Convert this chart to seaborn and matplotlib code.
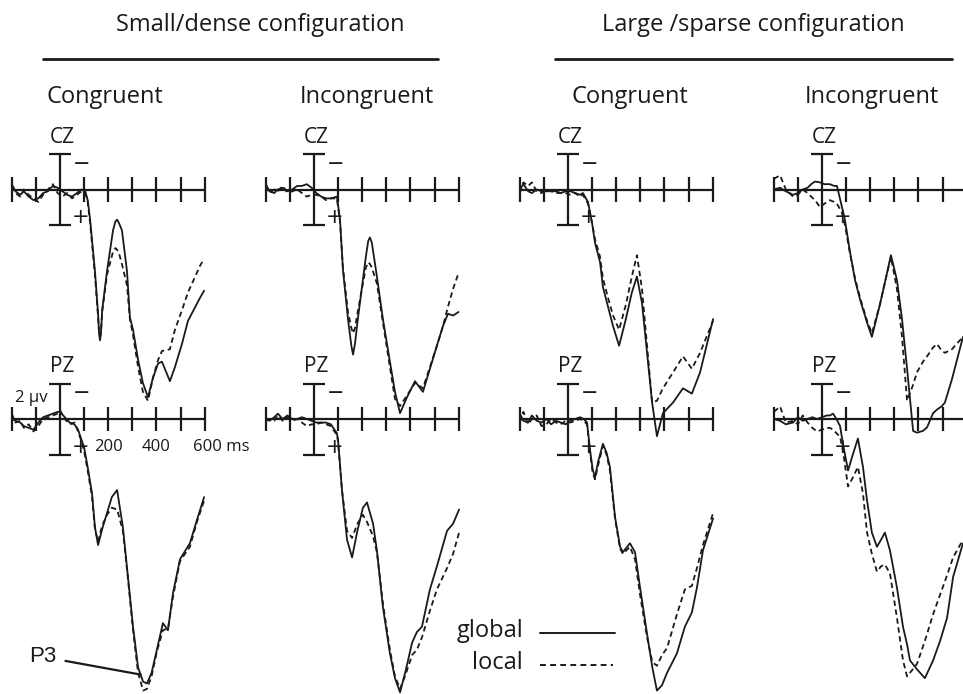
import numpy as np
import pandas as pd
import matplotlib
matplotlib.use("Agg")
import matplotlib.pyplot as plt
import seaborn as sns

# ==================== DATA (time in ms, amplitude in µV, positive plotted down) ====================
# small/dense - congruent
sd_con_cz_t = [-200,-185,-165,-150,-130,-110,-90,-70,-50,-30,-10,10,30,50,70,90,105,115,125,145,158,162,166,170,175,195,220,230,237,245,257,278,290,303,324,344,365,386,407,423,456,477,506,531,581,598]
sd_con_cz_global = [-0.3,0.1,0.3,0.1,0.4,0.6,0.5,0.2,0.1,-0.2,-0.1,0.1,0.3,0.4,0.2,0.0,0.1,0.6,1.7,4.6,7.0,8.1,8.5,8.1,6.8,4.6,2.3,1.8,1.7,1.9,2.3,4.6,7.2,7.9,9.6,10.9,11.7,10.6,9.8,9.7,10.8,10.0,8.7,7.4,6.1,5.7]
sd_con_cz_local = [-0.2,0.2,0.4,0.0,0.3,0.5,0.7,0.3,0.0,-0.3,0.2,0.4,0.2,0.5,0.3,0.1,0.2,0.7,1.9,4.8,7.2,8.0,8.3,8.0,6.9,4.8,3.5,3.3,3.4,3.6,4.2,5.4,7.3,8.2,10.0,11.4,11.9,10.6,9.6,9.1,9.0,7.9,6.8,5.8,4.3,3.9]

sd_con_pz_t = [-200,-185,-165,-150,-130,-110,-90,-70,-50,-30,-10,0,20,40,60,75,90,100,116,133,145,158,175,195,215,237,261,282,303,324,345,361,380,402,427,448,469,498,539,568,598]
sd_con_pz_global = [0.0,0.1,0.2,0.4,0.5,0.6,0.2,-0.1,-0.2,-0.3,-0.4,-0.4,-0.1,0.2,0.3,0.6,1.2,1.6,2.8,4.2,6.1,7.1,6.2,5.3,4.4,4.0,6.1,8.9,11.7,14.0,14.8,14.9,14.3,13.0,11.5,11.9,9.8,7.9,7.0,5.7,4.4]
sd_con_pz_local = [-0.3,0.2,0.1,0.5,0.3,0.7,0.4,0.0,-0.1,-0.2,-0.3,-0.5,0.0,0.3,0.2,0.7,1.3,1.8,3.0,4.4,6.2,6.9,6.0,5.4,5.0,5.1,6.3,9.0,11.9,14.3,15.3,15.2,14.5,13.1,11.9,11.8,10.0,8.0,7.2,5.8,4.6]

# small/dense - incongruent
sd_inc_cz_t = [-200,-185,-165,-150,-130,-110,-90,-70,-50,-30,-10,10,30,50,70,95,108,120,141,155,162,170,180,199,215,225,232,240,261,286,315,336,357,386,419,452,481,510,535,556,577,600]
sd_inc_cz_global = [-0.3,0.1,0.2,0.0,-0.1,0.1,0.0,-0.2,-0.2,-0.3,-0.1,0.2,0.4,0.5,0.5,0.4,1.7,4.5,7.3,8.8,9.3,8.7,7.5,5.5,3.8,2.9,2.7,3.0,4.9,7.3,9.7,11.4,12.6,11.7,10.8,11.4,10.1,8.8,7.7,7.0,7.1,6.9]
sd_inc_cz_local = [-0.2,0.2,0.0,0.1,-0.2,0.2,0.1,0.0,0.2,0.4,0.3,0.3,0.4,0.6,0.5,0.5,1.8,4.4,6.9,7.8,8.1,7.8,7.0,5.6,4.4,4.1,4.2,4.4,5.3,7.5,10.0,11.8,12.2,11.6,10.9,11.2,10.0,8.8,7.7,6.6,5.6,4.7]

sd_inc_pz_t = [-200,-185,-165,-150,-130,-110,-90,-70,-50,-30,-10,10,30,50,70,95,100,116,137,158,180,203,220,245,261,286,315,336,357,380,407,427,448,481,510,552,577,602]
sd_inc_pz_global = [0.0,0.1,-0.1,-0.3,0.0,-0.2,0.0,0.0,-0.1,0.0,0.1,0.2,0.2,0.2,0.3,0.8,1.2,4.0,6.8,7.8,6.3,5.0,4.7,5.9,7.4,10.6,13.2,14.6,15.4,14.2,12.6,12.0,11.7,9.6,8.3,6.3,5.9,5.1]
sd_inc_pz_local = [0.1,0.0,0.1,-0.2,0.1,-0.1,0.1,0.0,0.2,0.4,0.3,0.3,0.2,0.3,0.4,0.9,1.3,4.0,6.3,6.7,5.9,5.4,5.8,6.6,7.5,10.4,13.0,14.5,15.2,14.4,13.3,13.0,12.3,10.8,9.6,8.4,7.6,6.4]

# large/sparse - congruent
ls_con_cz_t = [-200,-185,-165,-150,-130,-110,-90,-70,-50,-30,-10,10,30,50,62,83,100,112,133,145,166,187,212,240,265,286,307,328,349,369,394,436,477,514,548,602]
ls_con_cz_global = [0.0,-0.3,0.1,0.2,0.0,0.1,0.1,0.1,0.1,0.2,0.1,0.1,0.2,0.3,0.2,0.7,1.9,3.0,4.1,5.5,6.6,7.7,8.8,7.3,5.8,4.9,6.4,9.2,12.0,13.9,12.6,12.0,11.2,11.5,10.3,7.3]
ls_con_cz_local = [0.2,-0.4,-0.2,-0.4,0.1,0.2,0.0,0.1,0.2,0.2,0.2,0.3,0.2,0.4,0.3,0.8,1.9,2.8,3.8,5.0,6.1,7.1,7.9,6.5,4.9,3.7,5.6,8.8,12.0,11.9,11.2,10.3,9.4,10.1,9.2,7.4]

ls_con_pz_t = [-200,-185,-165,-150,-130,-110,-90,-70,-50,-30,-10,10,30,50,65,79,91,102,112,125,145,160,174,195,216,228,257,278,299,328,350,369,390,411,452,485,514,535,560,602]
ls_con_pz_global = [-0.3,0.1,0.2,-0.2,0.1,0.2,0.0,0.3,0.1,0.2,0.3,0.1,0.0,-0.1,0.0,0.2,1.7,2.8,3.3,2.4,1.4,1.9,2.7,5.5,7.2,7.5,7.0,7.5,9.5,12.1,14.0,15.3,15.0,14.3,13.2,11.7,10.9,9.5,7.4,5.6]
ls_con_pz_local = [0.2,-0.4,0.3,0.0,-0.2,0.4,0.3,0.0,0.2,0.3,0.1,0.2,0.1,0.0,0.1,0.3,1.8,3.0,3.4,2.6,1.5,2.0,2.9,5.6,7.3,7.6,7.2,7.9,9.9,12.3,13.7,13.9,13.3,12.9,11.0,9.6,9.4,8.4,7.1,5.3]

# large/sparse - incongruent (cut at right edge)
ls_inc_cz_t = [-200,-174,-150,-120,-100,-80,-60,-45,-29,-8,10,33,50,62,83,95,116,137,158,187,207,240,265,286,311,332,353,378,394,419,436,461,477,498,510,539,585]
ls_inc_cz_global = [0.0,-0.1,0.1,0.3,0.2,0.0,-0.1,-0.3,-0.45,-0.4,-0.3,-0.3,-0.2,-0.2,1.0,1.7,3.5,5.1,6.2,7.5,8.3,6.5,5.0,3.7,5.1,7.3,10.1,13.6,13.7,13.6,13.4,12.6,12.4,12.2,12.0,10.7,8.3]
ls_inc_cz_local = [-0.6,-0.8,0.0,0.4,0.3,0.0,0.2,0.4,0.6,1.0,0.8,0.6,0.7,0.8,1.3,2.0,3.6,5.0,6.1,7.4,8.1,6.5,5.0,3.8,5.6,8.3,11.9,11.0,10.3,9.7,9.4,8.9,8.7,9.1,9.2,9.0,8.3]

ls_inc_pz_t = [-200,-174,-150,-120,-100,-80,-60,-40,-21,0,20,33,46,60,75,87,108,128,149,170,187,207,228,245,261,282,311,336,353,365,394,427,461,490,519,544,585]
ls_inc_pz_global = [0.0,0.1,0.3,0.2,-0.1,0.1,0.0,-0.1,0.0,-0.1,-0.2,-0.2,-0.3,0.0,0.4,1.4,2.9,2.0,1.1,2.7,4.6,6.4,7.2,6.8,6.4,7.4,9.5,11.7,12.7,13.6,14.1,14.6,13.6,12.5,11.2,8.9,7.0]
ls_inc_pz_local = [-0.4,-0.7,0.2,0.1,0.3,-0.2,0.2,0.5,0.7,0.6,0.5,0.5,0.6,0.8,1.0,1.8,3.8,3.3,2.7,4.2,6.4,7.6,8.6,8.3,8.2,8.7,11.2,13.6,14.5,14.3,13.8,12.5,11.0,9.9,8.8,7.8,6.8]

x_ticks = [-200, -100, 100, 200, 300, 400, 500, 600]
group_titles = ["Small/dense configuration", "Large /sparse configuration"]
column_titles = ["Congruent", "Incongruent", "Congruent", "Incongruent"]
electrodes = ["CZ", "PZ"]

# ==================== LAYOUT (pixels of the 963x694 figure) ====================
W, H = 963, 694
col_x0 = [60, 314, 568, 822]          # pixel x of 0 ms in each column
row_base = [189.5, 419]               # pixel y of 0 µV for CZ and PZ
px_per_ms = 0.241
px_per_uv = 17.75
ink = "#1a1a1a"

sns.set_style("white")
plt.rcParams['font.family'] = ['Open Sans', 'DejaVu Sans']

fig = plt.figure(figsize=(W / 100, H / 100), dpi=100)

# background axes in pixel units for headers and legend
bg = fig.add_axes([0, 0, 1, 1])
bg.set_xlim(0, W)
bg.set_ylim(H, 0)
bg.axis("off")
bg.text(260, 25, group_titles[0], ha="center", va="center", fontsize=17, color=ink)
bg.text(753, 25, group_titles[1], ha="center", va="center", fontsize=17, color=ink)
bg.plot([43, 438], [59, 59], color=ink, lw=2)
bg.plot([555, 952], [59, 59], color=ink, lw=2)
for cx, title in zip([105, 367, 630, 872], column_titles):
    bg.text(cx, 97, title, ha="center", va="center", fontsize=17, color=ink)

# legend
bg.text(523, 631, "global", ha="right", va="center", fontsize=17, color=ink)
bg.text(523, 663, "local", ha="right", va="center", fontsize=17, color=ink)
bg.plot([540, 615], [633, 633], color=ink, lw=1.4)
bg.plot([540, 613], [665, 665], color=ink, lw=1.4, dashes=(3, 2.2))

panels = [
    (0, 0, sd_con_cz_t, sd_con_cz_global, sd_con_cz_local),
    (0, 1, sd_con_pz_t, sd_con_pz_global, sd_con_pz_local),
    (1, 0, sd_inc_cz_t, sd_inc_cz_global, sd_inc_cz_local),
    (1, 1, sd_inc_pz_t, sd_inc_pz_global, sd_inc_pz_local),
    (2, 0, ls_con_cz_t, ls_con_cz_global, ls_con_cz_local),
    (2, 1, ls_con_pz_t, ls_con_pz_global, ls_con_pz_local),
    (3, 0, ls_inc_cz_t, ls_inc_cz_global, ls_inc_cz_local),
    (3, 1, ls_inc_pz_t, ls_inc_pz_global, ls_inc_pz_local),
]

for col, row, t, g, l in panels:
    x0, yb = col_x0[col], row_base[row]
    left = x0 - 200 * px_per_ms
    bottom = H - (yb + 2 * px_per_uv)
    ax = fig.add_axes([left / W, bottom / H, 800 * px_per_ms / W, 4 * px_per_uv / H])
    ax.set_xlim(-200, 600)
    ax.set_ylim(2, -2)   # negative up
    ax.axis("off")

    # axes: time line, ticks, amplitude bar with caps
    ax.hlines(0, -200, 600, color=ink, lw=1.6, clip_on=False)
    ax.vlines(x_ticks, -0.68, 0.68, color=ink, lw=1.6, clip_on=False)
    ax.vlines(0, -2, 2, color=ink, lw=1.6, clip_on=False)
    ax.hlines([-2, 2], -45, 45, color=ink, lw=1.6, clip_on=False)
    ax.text(8, -2.95, electrodes[row], ha="center", va="center", fontsize=15, color=ink)
    ax.text(90, -1.45, "\u2212", ha="center", va="center", fontsize=15, color=ink,
            family=['DejaVu Sans'])
    ax.text(84, 1.55, "+", ha="center", va="center", fontsize=15, color=ink,
            family=['DejaVu Sans'])

    df = pd.DataFrame({
        "t": list(t) * 2,
        "v": list(g) + list(l),
        "cond": ["global"] * len(t) + ["local"] * len(t),
    })
    sns.lineplot(data=df, x="t", y="v", style="cond",
                 dashes={"global": "", "local": (3, 2)},
                 color=ink, lw=1.3, estimator=None, sort=False,
                 legend=False, ax=ax)
    for line in ax.lines:
        line.set_clip_on(False)

    if col == 0 and row == 1:
        ax.text(-118, -1.2, "2 \u00b5v", ha="center", va="center", fontsize=12, color=ink)
        ax.text(200, 1.6, "200", ha="center", va="center", fontsize=12, color=ink)
        ax.text(400, 1.6, "400", ha="center", va="center", fontsize=12, color=ink)
        ax.text(552, 1.6, "600 ms", ha="left", va="center", fontsize=12, color=ink)
        ax.annotate("P3", xy=(335, 14.4), xytext=(-70, 13.4),
                    ha="center", va="center", fontsize=16, color=ink,
                    family=['Liberation Sans'], annotation_clip=False,
                    arrowprops=dict(arrowstyle="-", color=ink, lw=1.6,
                                    shrinkA=4, shrinkB=0))

fig.savefig("out.png", dpi=100, facecolor="white")
